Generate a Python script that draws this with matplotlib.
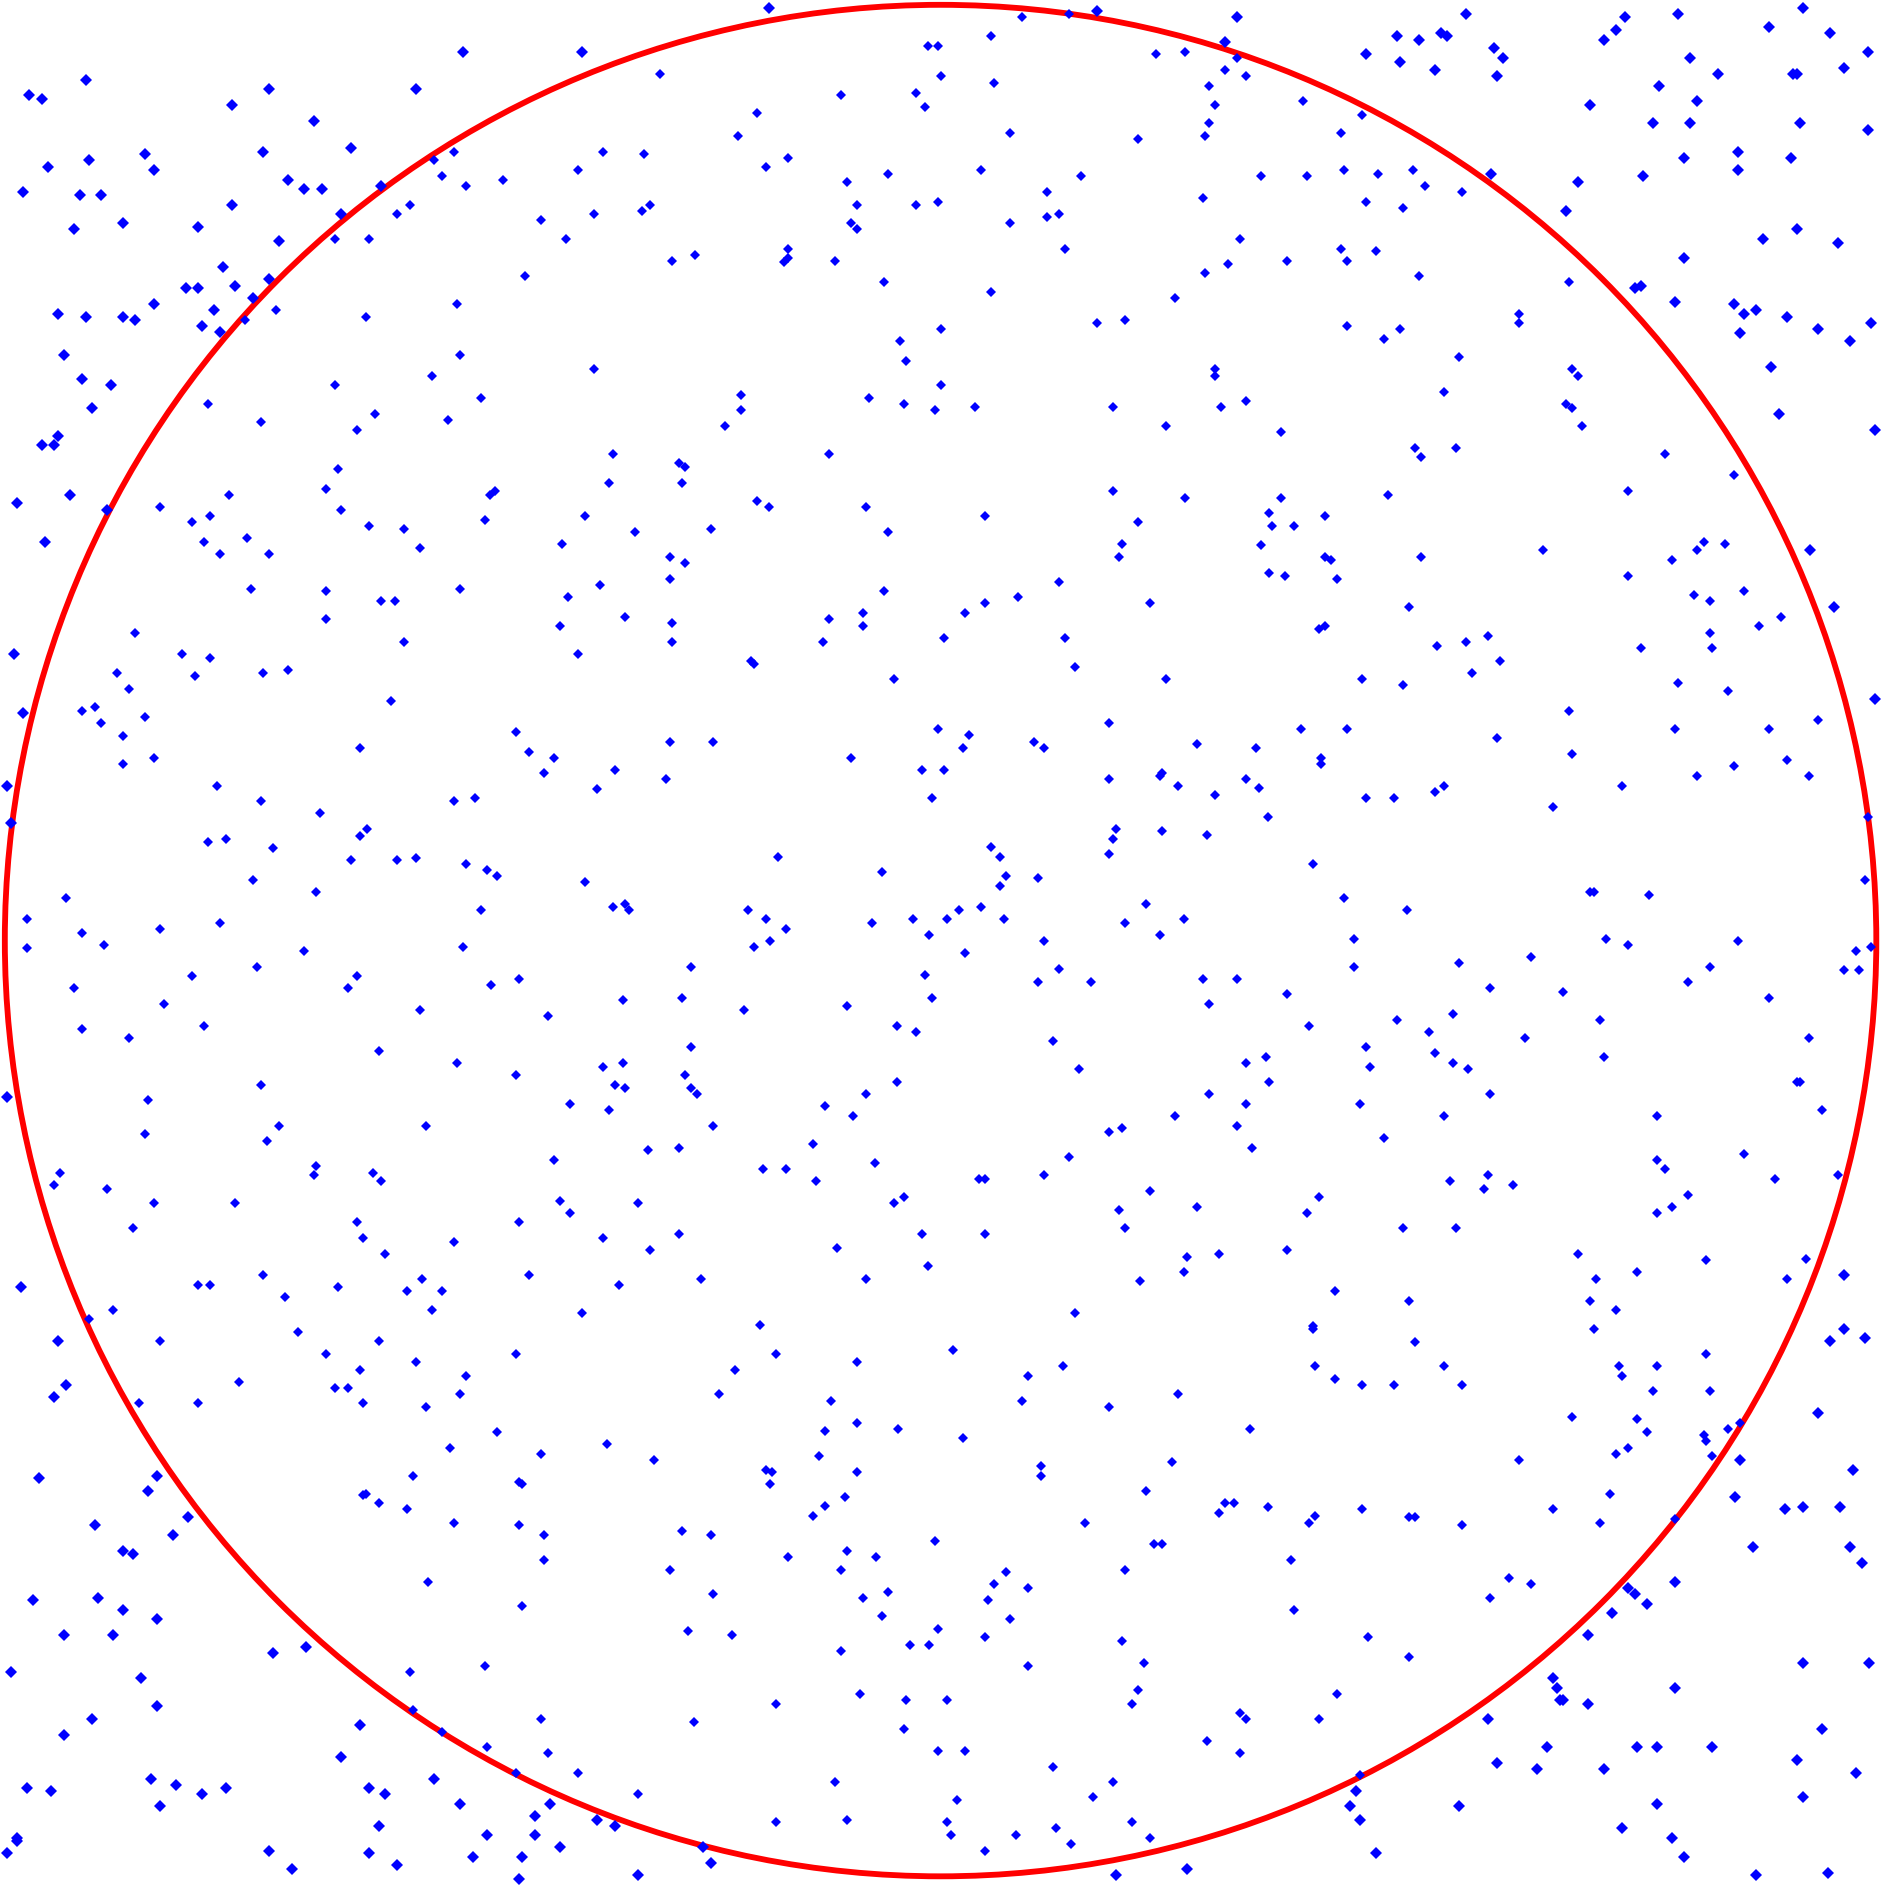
import numpy as np
import matplotlib
matplotlib.use('Agg')
import matplotlib.pyplot as plt

# sample positions, on a 0..1568 reading grid (y down),
# grouped by the 3x3 block of the picture they sit in
pts_top_left = [
    (71, 66), (24, 79), (35, 82), (223, 74), (192, 87), (384, 43), (482, 43), (345, 74), (260, 100), (120, 128),
    (74, 133), (40, 138), (128, 141), (218, 126), (291, 123), (19, 159), (66, 162), (84, 162), (239, 149), (252, 157),
    (267, 157), (192, 170), (102, 185), (61, 190), (164, 188), (316, 154), (283, 177), (231, 200), (185, 221), (154, 239),
    (164, 239), (195, 237), (223, 231), (210, 247), (128, 252), (48, 260), (71, 263), (102, 263), (112, 265), (177, 257),
    (167, 270), (182, 275), (203, 265), (229, 257), (53, 294), (68, 314), (92, 319), (76, 338), (48, 361), (35, 369),
    (45, 369), (58, 410), (14, 417), (37, 449), (89, 423), (360, 133), (376, 126), (366, 146), (386, 154), (417, 149),
    (500, 126), (479, 141), (329, 177), (340, 170), (278, 198), (306, 198), (448, 182), (469, 198), (492, 177), (435, 229),
    (379, 252), (303, 263), (381, 294), (492, 306), (278, 319), (358, 312), (399, 330), (172, 335), (216, 350), (311, 343),
    (296, 356), (371, 348), (508, 376), (505, 400), (280, 389), (270, 405), (190, 410), (283, 423), (406, 410), (410, 407),
    (402, 431), (485, 428), (133, 420), (159, 433), (174, 428), (306, 436), (335, 438), (348, 454), (466, 451), (205, 446),
    (169, 449), (182, 459), (223, 459), (208, 488), (270, 490), (316, 498), (327, 498), (381, 488), (497, 485), (471, 495),
    (270, 513), (464, 519), (518, 511),
]
pts_top_mid = [
    (637, 7), (547, 61), (847, 14), (886, 12), (909, 9), (1025, 14), (1015, 35), (821, 30), (769, 38), (777, 38),
    (780, 63), (824, 69), (958, 45), (982, 43), (1025, 48), (1015, 58), (1033, 63), (1002, 71), (697, 79), (759, 77),
    (767, 89), (627, 94), (612, 113), (837, 110), (1007, 87), (1002, 102), (999, 113), (943, 115), (534, 128), (635, 138),
    (653, 131), (736, 144), (813, 141), (896, 146), (702, 151), (868, 159), (1045, 146), (997, 164), (532, 175), (539, 170),
    (710, 170), (759, 170), (777, 167), (705, 185), (710, 190), (837, 185), (868, 180), (878, 177), (883, 206), (1028, 198),
    (1018, 219), (999, 226), (557, 216), (576, 211), (653, 206), (650, 217), (653, 214), (692, 216), (733, 234), (821, 242),
    (974, 247), (909, 268), (932, 265), (780, 273), (746, 283), (751, 299), (1007, 306), (1007, 312), (780, 319), (720, 330),
    (749, 335), (775, 340), (808, 337), (922, 337), (1012, 337), (1033, 332), (614, 327), (614, 340), (601, 353), (966, 353),
    (687, 376), (563, 384), (568, 387), (565, 400), (627, 415), (637, 420), (718, 420), (816, 428), (922, 407), (982, 413),
    (943, 433), (526, 441), (589, 438), (736, 441), (930, 451), (927, 462), (1045, 452), (555, 462), (568, 467), (555, 480),
    (733, 490), (878, 482), (844, 495), (816, 500), (800, 508), (953, 500), (557, 516), (687, 513), (715, 508), (715, 519),
]
pts_top_right = [
    (1215, 12), (1158, 30), (1176, 33), (1194, 27), (1199, 30), (1132, 45), (1160, 51), (1189, 58), (1238, 40), (1246, 48),
    (1241, 63), (1329, 33), (1339, 25), (1347, 14), (1391, 12), (1466, 22), (1494, 7), (1517, 27), (1548, 43), (1528, 56),
    (1401, 48), (1424, 61), (1486, 61), (1489, 61), (1375, 71), (1406, 84), (1318, 87), (1370, 102), (1401, 102), (1492, 102),
    (1548, 108), (1396, 131), (1440, 126), (1440, 141), (1484, 131), (1362, 146), (1308, 151), (1298, 175), (1236, 144), (1080, 84),
    (1129, 95), (1111, 110), (1083, 146), (1114, 141), (1142, 144), (1171, 141), (1181, 154), (1212, 159), (1132, 167), (1163, 172),
    (1111, 206), (1116, 216), (1140, 208), (1067, 216), (1176, 229), (1461, 198), (1489, 190), (1523, 201), (1396, 214), (1300, 234),
    (1355, 239), (1360, 237), (1388, 250), (1437, 252), (1445, 260), (1455, 257), (1481, 263), (1442, 276), (1507, 273), (1551, 268),
    (1533, 283), (1259, 260), (1259, 268), (1116, 270), (1147, 281), (1160, 273), (1209, 296), (1303, 306), (1308, 312), (1197, 325),
    (1298, 335), (1303, 338), (1311, 353), (1468, 304), (1474, 343), (1554, 356), (1062, 358), (1173, 371), (1178, 379), (1207, 371),
    (1380, 376), (1437, 394), (1349, 407), (1150, 410), (1062, 413), (1052, 425), (1054, 436), (1072, 436), (1098, 428), (1098, 462),
    (1103, 464), (1178, 462), (1052, 475), (1065, 477), (1108, 480), (1279, 456), (1386, 464), (1406, 456), (1412, 449), (1430, 451),
    (1500, 456), (1349, 477), (1404, 493), (1417, 498), (1445, 490), (1520, 503), (1476, 511), (1458, 519), (1168, 503), (1098, 519),
    (1093, 521),
]
pts_mid_left = [
    (112, 525), (12, 542), (19, 591), (6, 651), (9, 682), (6, 909), (151, 542), (174, 545), (97, 558), (162, 560),
    (107, 571), (218, 558), (239, 555), (335, 532), (479, 542), (68, 589), (79, 586), (84, 599), (120, 594), (102, 610),
    (102, 633), (128, 628), (324, 581), (298, 620), (428, 607), (438, 623), (459, 628), (451, 641), (510, 638), (495, 654),
    (180, 651), (216, 664), (265, 674), (376, 664), (394, 661), (298, 693), (304, 687), (172, 698), (187, 695), (226, 703),
    (291, 713), (329, 713), (345, 711), (386, 716), (404, 721), (412, 726), (210, 729), (262, 739), (485, 731), (55, 744),
    (22, 762), (68, 773), (86, 783), (22, 786), (133, 770), (182, 765), (399, 754), (508, 752), (518, 749), (521, 754),
    (252, 788), (213, 801), (384, 785), (159, 809), (61, 819), (296, 809), (288, 819), (407, 816), (430, 811), (136, 832),
    (348, 837), (516, 829), (454, 842), (68, 853), (107, 860), (169, 850), (314, 871), (379, 881), (428, 891), (500, 884),
    (516, 881), (510, 899), (518, 902), (472, 915), (505, 920), (216, 899), (123, 912), (231, 933), (221, 946), (120, 940),
    (353, 933), (459, 961), (262, 966), (260, 974), (309, 972), (316, 979), (50, 972), (45, 982), (89, 985), (128, 997),
    (195, 997), (464, 995), (472, 1005), (296, 1013), (301, 1026), (319, 1039), (376, 1029), (430, 1013), (500, 1026), (110, 1018),
]
pts_mid_mid = [
    (557, 532), (682, 532), (782, 529), (883, 529), (622, 548), (625, 550), (741, 563), (891, 553), (966, 563), (555, 615),
    (591, 615), (552, 646), (705, 628), (777, 604), (803, 609), (798, 620), (764, 638), (782, 638), (772, 661), (857, 615),
    (865, 620), (919, 599), (992, 617), (1041, 620), (919, 646), (961, 643), (963, 641), (976, 651), (1007, 659), (1033, 646),
    (1043, 653), (925, 687), (922, 695), (919, 708), (963, 689), (1000, 692), (645, 710), (731, 723), (821, 702), (829, 710),
    (834, 726), (829, 734), (860, 728), (620, 754), (635, 762), (651, 770), (625, 785), (638, 780), (723, 765), (757, 762),
    (770, 775), (785, 762), (795, 754), (813, 752), (832, 762), (865, 780), (800, 790), (950, 749), (932, 765), (961, 775),
    (981, 762), (573, 801), (565, 827), (617, 837), (702, 834), (767, 808), (772, 827), (860, 814), (878, 803), (904, 814),
    (997, 811), (1025, 811), (1002, 832), (743, 850), (759, 855), (873, 863), (573, 868), (568, 891), (573, 902), (578, 907),
    (894, 886), (1033, 881), (1002, 907), (1033, 915), (974, 925), (1025, 933), (1038, 951), (743, 897), (718, 907), (684, 917),
    (707, 925), (591, 933), (537, 953), (563, 951), (674, 948), (632, 969), (651, 969), (676, 979), (725, 964), (811, 977),
    (816, 977), (865, 974), (886, 959), (919, 938), (930, 935), (953, 987), (927, 1003), (932, 1018), (992, 1000), (529, 997),
    (563, 1023), (539, 1036), (741, 997), (749, 992), (764, 1023), (816, 1023), (694, 1034), (984, 1042), (1010, 1039),
]
pts_mid_right = [
    (1191, 535), (1215, 532), (1233, 527), (1243, 548), (1220, 558), (1129, 563), (1163, 568), (1360, 537), (1417, 525), (1419, 537),
    (1391, 566), (1432, 573), (1300, 589), (1078, 604), (1116, 604), (1241, 612), (1303, 625), (1388, 604), (1466, 604), (1507, 597),
    (1554, 579), (1095, 628), (1095, 633), (1481, 630), (1437, 635), (1406, 643), (1499, 643), (1132, 661), (1155, 661), (1189, 656),
    (1197, 651), (1344, 651), (1287, 669), (1051, 677), (1548, 677), (1088, 716), (1114, 744), (1166, 754), (1318, 739), (1321, 739),
    (1367, 742), (1546, 729), (1122, 778), (1122, 801), (1209, 798), (1269, 793), (1331, 778), (1349, 783), (1440, 780), (1538, 788),
    (1551, 785), (1528, 804), (1541, 804), (1417, 801), (1399, 814), (1466, 827), (1067, 824), (1235, 819), (1295, 822), (1085, 850),
    (1158, 845), (1204, 840), (1184, 855), (1326, 845), (1264, 860), (1499, 860), (1049, 876), (1052, 897), (1132, 868), (1135, 884),
    (1189, 873), (1204, 881), (1217, 886), (1329, 876), (1235, 907), (1127, 915), (1197, 925), (1147, 943), (1373, 925), (1489, 897),
    (1492, 897), (1510, 920), (1445, 956), (1373, 961), (1380, 969), (1471, 977), (1523, 974), (1202, 979), (1233, 974), (1230, 985),
    (1254, 982), (1093, 992), (1083, 1005), (1399, 990), (1386, 1000), (1373, 1005), (1163, 1018), (1207, 1018), (1067, 1036), (1308, 1039),
    (1414, 1044), (1497, 1043),
]
pts_bot_left = [
    (17, 1067), (74, 1093), (94, 1086), (48, 1111), (55, 1148), (45, 1158), (133, 1111), (115, 1163), (164, 1065), (174, 1065),
    (164, 1163), (198, 1145), (218, 1057), (236, 1075), (247, 1104), (280, 1067), (270, 1122), (298, 1135), (278, 1150), (288, 1150),
    (301, 1163), (314, 1111), (337, 1070), (350, 1060), (366, 1070), (358, 1086), (345, 1129), (386, 1140), (381, 1155), (353, 1166),
    (438, 1057), (513, 1065), (482, 1088), (428, 1122), (412, 1187), (373, 1200), (448, 1205), (503, 1197), (342, 1223), (430, 1228),
    (433, 1230), (301, 1239), (303, 1238), (314, 1246), (337, 1251), (376, 1262), (430, 1264), (451, 1272), (451, 1293), (355, 1311),
    (433, 1331), (32, 1225), (130, 1223), (123, 1236), (156, 1257), (79, 1264), (143, 1272), (102, 1285), (110, 1288), (27, 1326),
    (81, 1324), (102, 1334), (130, 1342), (53, 1355), (94, 1355), (226, 1370), (254, 1365), (9, 1386), (117, 1391), (130, 1414),
    (76, 1425), (53, 1438), (340, 1386), (402, 1381), (342, 1417), (298, 1430), (283, 1456), (366, 1435), (404, 1448), (448, 1425),
    (454, 1453), (428, 1469), (479, 1469), (360, 1474), (381, 1495), (456, 1495), (443, 1505), (495, 1508), (510, 1513), (404, 1521),
    (443, 1521), (464, 1531), (392, 1539), (433, 1539), (430, 1557), (306, 1482), (319, 1487), (314, 1513), (306, 1536), (329, 1546),
    (223, 1534), (242, 1549), (125, 1474), (146, 1479), (167, 1487), (187, 1482), (133, 1497), (22, 1482), (42, 1484), (14, 1523),
    (14, 1526), (6, 1536),
]
pts_bot_mid = [
    (581, 1060), (718, 1060), (769, 1049), (945, 1062), (981, 1054), (891, 1088), (630, 1098), (643, 1122), (609, 1135), (596, 1155),
    (710, 1129), (790, 1119), (852, 1140), (881, 1132), (847, 1161), (919, 1166), (976, 1155), (1036, 1184), (689, 1161), (710, 1179),
    (684, 1186), (744, 1184), (798, 1192), (542, 1210), (635, 1218), (640, 1220), (638, 1230), (679, 1207), (710, 1220), (700, 1241),
    (684, 1248), (674, 1256), (863, 1215), (863, 1223), (971, 1212), (950, 1236), (1015, 1246), (1023, 1246), (1010, 1254), (899, 1262),
    (565, 1269), (589, 1272), (555, 1301), (653, 1290), (702, 1285), (726, 1290), (697, 1301), (775, 1277), (956, 1280), (963, 1280),
    (932, 1301), (591, 1321), (715, 1324), (736, 1319), (731, 1339), (834, 1303), (824, 1313), (852, 1316), (819, 1326), (837, 1342),
    (777, 1350), (754, 1363), (770, 1363), (816, 1357), (570, 1352), (607, 1355), (697, 1368), (852, 1381), (930, 1360), (948, 1378),
    (713, 1404), (751, 1409), (785, 1409), (749, 1433), (643, 1412), (575, 1427), (943, 1401), (938, 1412), (1028, 1420), (1033, 1425),
    (1000, 1443), (1028, 1453), (777, 1451), (800, 1451), (873, 1464), (692, 1477), (529, 1487), (643, 1510), (702, 1508), (793, 1492),
    (785, 1510), (788, 1521), (816, 1534), (842, 1521), (875, 1515), (888, 1528), (906, 1489), (922, 1477), (938, 1510), (953, 1523),
    (583, 1531), (589, 1544), (529, 1554), (925, 1554), (984, 1549),
]
pts_bot_right = [
    (1106, 1070), (1168, 1078), (1088, 1099), (1088, 1101), (1173, 1112), (1090, 1132), (1106, 1143), (1129, 1148), (1155, 1148), (1197, 1132),
    (1212, 1148), (1323, 1060), (1357, 1054), (1318, 1078), (1339, 1086), (1321, 1101), (1481, 1060), (1528, 1057), (1528, 1101), (1517, 1111),
    (1546, 1109), (1414, 1122), (1342, 1132), (1344, 1140), (1373, 1132), (1370, 1153), (1417, 1153), (1303, 1174), (1357, 1176), (1365, 1187),
    (1412, 1189), (1414, 1194), (1432, 1184), (1442, 1179), (1419, 1207), (1442, 1210), (1507, 1171), (1536, 1218), (1349, 1200), (1339, 1205),
    (1259, 1210), (1334, 1238), (1326, 1262), (1438, 1241), (1479, 1251), (1494, 1249), (1525, 1249), (1388, 1259), (1453, 1282), (1533, 1282),
    (1543, 1295), (1051, 1249), (1085, 1262), (1090, 1256), (1129, 1251), (1168, 1257), (1173, 1257), (1212, 1264), (1287, 1251), (1070, 1293),
    (1072, 1334), (1251, 1308), (1269, 1313), (1235, 1324), (1388, 1311), (1349, 1316), (1355, 1321), (1365, 1329), (1336, 1337), (1316, 1355),
    (1134, 1357), (1168, 1373), (1108, 1404), (1093, 1425), (1287, 1391), (1290, 1399), (1293, 1409), (1295, 1409), (1316, 1412), (1388, 1399),
    (1494, 1378), (1549, 1378), (1233, 1425), (1510, 1433), (1282, 1448), (1241, 1461), (1274, 1466), (1329, 1466), (1357, 1448), (1373, 1448),
    (1419, 1448), (1489, 1459), (1538, 1469), (1494, 1489), (1127, 1471), (1124, 1484), (1119, 1497), (1127, 1508), (1209, 1497), (1140, 1536),
    (1373, 1495), (1344, 1515), (1386, 1523), (1396, 1539), (1455, 1554), (1515, 1552),
]

# where the unit circle sits on the same reading grid
GRID = 1568
CX, CY, R = 779.5, 779.5, 775.5

pts = np.array(pts_top_left + pts_top_mid + pts_top_right
               + pts_mid_left + pts_mid_mid + pts_mid_right
               + pts_bot_left + pts_bot_mid + pts_bot_right, dtype=float)

# to unit-square coordinates
x = (pts[:, 0] - CX) / R
y = (CY - pts[:, 1]) / R
inside = x**2 + y**2 <= 1.0

fig = plt.figure(figsize=(18.92, 18.92), dpi=100)
ax = fig.add_axes([0, 0, 1, 1])

ax.add_patch(plt.Circle((0, 0), 1.0, fill=False, ec='red', lw=4.2, zorder=1))
ax.plot(x[inside], y[inside], 'D', color='blue', ms=4.6, mew=0, zorder=2)
ax.plot(x[~inside], y[~inside], 'D', color='blue', ms=6.0, mew=0, zorder=2)

ax.set_xlim(-CX / R, (GRID - CX) / R)
ax.set_ylim((CY - GRID) / R, CY / R)
ax.set_aspect('equal')
ax.axis('off')

fig.savefig('out.png', dpi=100, facecolor='white')
